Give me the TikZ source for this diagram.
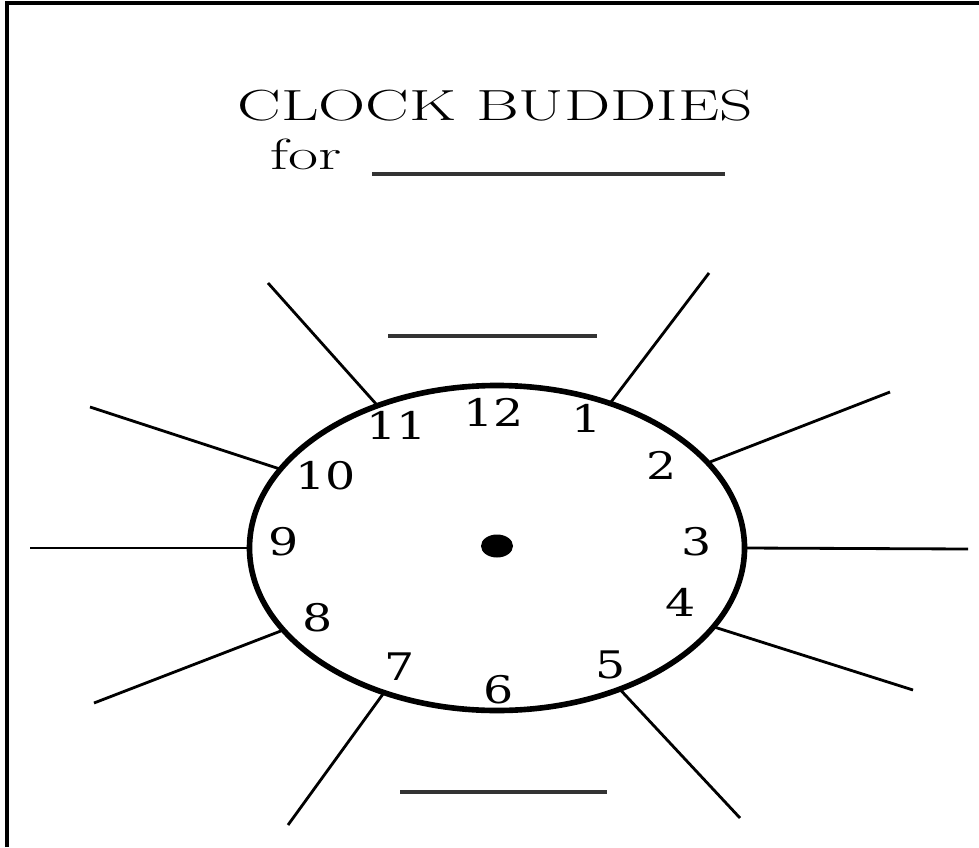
\documentclass[tikz,border=0pt]{standalone}
\usepackage{fontspec}
\usepackage{xcolor}
\usepackage{tikz}
\usetikzlibrary{shapes.geometric}

\newfontfamily\digitfont{DejaVu Serif}
\newcommand{\wide}[1]{\scalebox{1.5}[1]{#1}}
\newcommand{\widenum}[1]{\scalebox{1.25}[1]{#1}}

\begin{document}
\begin{tikzpicture}[x=0.25mm, y=-0.25mm,
    num/.style={font=\digitfont\fontsize{27}{27}\selectfont, inner sep=0pt},
    spoke/.style={line width=2pt},
    blank/.style={line width=2.8pt, black!80}]
    \useasboundingbox (0,0) rectangle (979,847);
    % frame, left and top only
    \draw[line width=2.2pt] (7,847) -- (7,3) -- (979,3);

    % title
    \node[inner sep=0pt, font=\fontsize{31}{31}\selectfont] (title) at (495,106) {\wide{CLOCK BUDDIES}};
    \node[inner sep=0pt, anchor=base west, font=\fontsize{31}{31}\selectfont] (for) at (270,170) {\wide{for}};
    \draw[blank] (372,174) -- (725,174);

    % clock face
    \node[ellipse, draw, line width=4pt, inner sep=0pt, outer sep=0pt,
          minimum width=12.375cm, minimum height=8.125cm] (clock) at (497,548) {};
    \node[ellipse, fill, inner sep=0pt, minimum width=0.8cm, minimum height=0.575cm] (hub) at (497,546) {};

    % hour numbers
    \node[num] (h12) at (494,412) {\widenum{12}};
    \node[num] (h1) at (587,418) {\widenum{1}};
    \node[num] (h2) at (662,465) {\widenum{2}};
    \node[num] (h3) at (697,542) {\widenum{3}};
    \node[num] (h4) at (681,602) {\widenum{4}};
    \node[num] (h5) at (611,665) {\widenum{5}};
    \node[num] (h6) at (499,690) {\widenum{6}};
    \node[num] (h7) at (400,667) {\widenum{7}};
    \node[num] (h8) at (318,618) {\widenum{8}};
    \node[num] (h9) at (284,542) {\widenum{9}};
    \node[num] (h10) at (326,476) {\widenum{10}};
    \node[num] (h11) at (397,425) {\widenum{11}};

    % outer ends of the spokes
    \coordinate (o1) at (709,273);
    \coordinate (o2) at (890,392);
    \coordinate (o3) at (968,549);
    \coordinate (o4) at (913,690);
    \coordinate (o5) at (740,818);
    \coordinate (o7) at (288,825);
    \coordinate (o8) at (94,703);
    \coordinate (o9) at (30,548);
    \coordinate (o10) at (90,407);
    \coordinate (o11) at (268,283);

    \draw[spoke] (clock.52) -- (o1);
    \draw[spoke] (clock.22) -- (o2);
    \draw[spoke] (clock.0) -- (o3);
    \draw[spoke] (clock.340.7) -- (o4);
    \draw[spoke] (clock.311.7) -- (o5);
    \draw[spoke] (clock.232.9) -- (o7);
    \draw[spoke] (clock.201.1) -- (o8);
    \draw[spoke] (clock.180) -- (o9);
    \draw[spoke] (clock.160.9) -- (o10);
    \draw[spoke] (clock.130.2) -- (o11);

    % blanks for the buddies' names
    \draw[blank] (388,336) -- (597,336);
    \draw[blank] (400,792) -- (607,792);
\end{tikzpicture}
\end{document}
